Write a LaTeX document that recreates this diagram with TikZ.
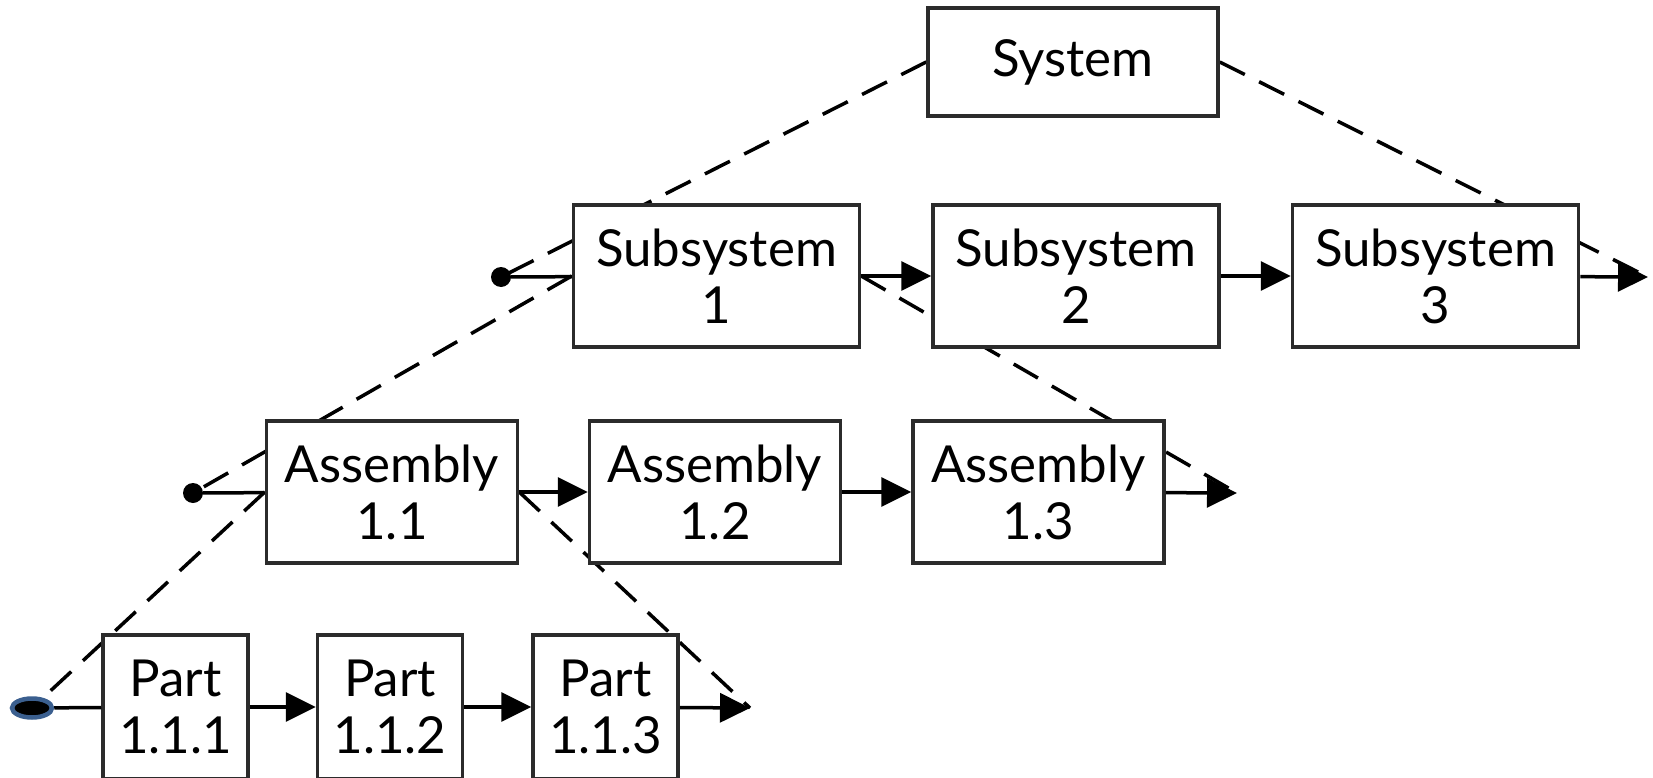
\documentclass[tikz,border=0pt]{standalone}
\usepackage{fontspec}
\setmainfont{Lato}
\usetikzlibrary{arrows.meta,backgrounds,shapes.geometric}
\definecolor{edge}{HTML}{2B2B2B}
\definecolor{ellblue}{HTML}{3B5F8F}
\begin{document}
\begin{tikzpicture}[x=1pt,y=-1pt,
  box/.style={draw=edge, fill=white, line width=3.5pt, inner sep=0pt, align=center,
    font=\fontsize{51}{57}\selectfont},
  sysbox/.style={box, minimum width=290pt, minimum height=108pt},
  subbox/.style={box, minimum width=286pt, minimum height=142pt},
  asmbox/.style={box, minimum width=251pt, minimum height=142pt},
  partbox/.style={box, minimum width=145pt, minimum height=144pt},
  flow/.style={draw=black, line width=3.5pt},
  flowarrow/.style={flow, -{Triangle[length=30pt,width=29pt]}},
  dashline/.style={draw=black, line width=3.5pt, dash pattern=on 28pt off 16pt},
  startdot/.style={circle, fill=black, inner sep=0pt, minimum size=20pt}
]
\useasboundingbox (0,0) rectangle (1653,778);
\clip (0,0) rectangle (1653,778);

% level 0
\node[sysbox] (sys) at (1073,62) {System};

% level 1
\node[subbox] (s1) at (716.5,276) {Subsystem\\1};
\node[subbox] (s2) at (1076,276) {Subsystem\\2};
\node[subbox] (s3) at (1435.5,276) {Subsystem\\3};
\node[startdot] (sdot) at (501,277) {};
\coordinate (send) at (1648,277);

% level 2
\node[asmbox] (a1) at (392,492) {Assembly\\1.1};
\node[asmbox] (a2) at (715,492) {Assembly\\1.2};
\node[asmbox] (a3) at (1038.5,492) {Assembly\\1.3};
\node[startdot] (adot) at (193,493) {};
\coordinate (aend) at (1237,493);

% level 3
\node[partbox] (p1) at (175.5,707) {Part\\1.1.1};
\node[partbox] (p2) at (390,707) {Part\\1.1.2};
\node[partbox] (p3) at (605.5,707) {Part\\1.1.3};
\node[ellipse, fill=black, draw=ellblue, line width=4.5pt, minimum width=40pt, minimum height=19pt, inner sep=0pt] (pdot) at (32,708) {};
\coordinate (pend) at (750,708);

% chains
\draw[flow] (sdot) -- (s1);
\draw[flowarrow] (s1) -- (s2);
\draw[flowarrow] (s2) -- (s3);
\draw[flowarrow] (s3) -- (send);

\draw[flow] (adot) -- (a1);
\draw[flowarrow] (a1) -- (a2);
\draw[flowarrow] (a2) -- (a3);
\draw[flowarrow] (a3) -- (aend);

\draw[flow] (pdot) -- (p1);
\draw[flowarrow] (p1) -- (p2);
\draw[flowarrow] (p2) -- (p3);
\draw[flowarrow] (p3) -- (pend);

% decomposition (dashed) lines behind the boxes
\begin{pgfonlayer}{background}
\draw[dashline] (sys.west) -- (sdot.center);
\draw[dashline] (sys.east) -- (send);
\draw[dashline] (s1.west) -- (adot.center);
\draw[dashline] (s1.east) -- (aend);
\draw[dashline] (a1.west) -- (pdot.center);
\draw[dashline] (a1.east) -- (pend);
\end{pgfonlayer}
\end{tikzpicture}
\end{document}
